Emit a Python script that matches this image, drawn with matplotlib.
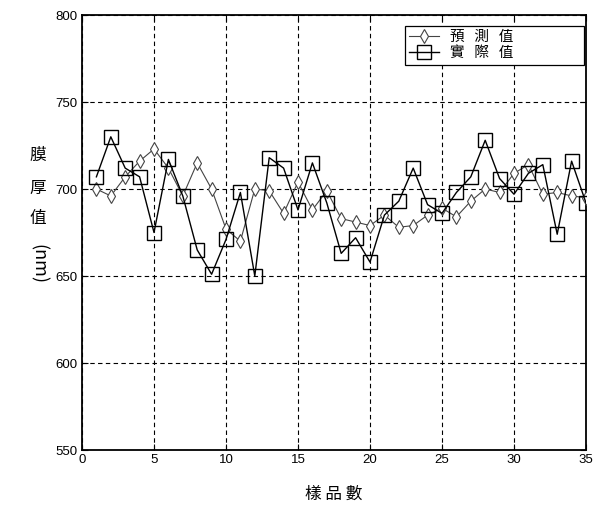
import numpy as np
import matplotlib
matplotlib.use('Agg')
import matplotlib.pyplot as plt

plt.rcParams['font.family'] = ['Noto Sans CJK TC', 'DejaVu Sans']

# 資料
samples = list(range(1, 36))
pred = [700, 696, 707, 716, 723, 712, 696, 715, 700, 677,
        670, 700, 699, 686, 704, 688, 699, 683, 681, 679,
        685, 678, 679, 685, 689, 684, 693, 700, 698, 709,
        714, 697, 698, 696, 695]
actual = [707, 730, 712, 707, 675, 717, 696, 665, 651, 671,
          698, 650, 718, 712, 688, 715, 692, 663, 672, 658,
          685, 693, 712, 691, 686, 698, 707, 728, 706, 697,
          709, 714, 674, 716, 692]
xticks = [0, 5, 10, 15, 20, 25, 30, 35]
yticks = [550, 600, 650, 700, 750, 800]

fig = plt.figure(figsize=(5.97, 5.17), dpi=100)
ax = fig.add_axes([82/597, 1-450/517, (586-82)/597, (450-15)/517])

ax.plot(samples, pred, color='#444444', lw=0.8, marker='d', markersize=7.5,
        markerfacecolor='white', markeredgecolor='#444444', markeredgewidth=0.8,
        label='預   測   值', zorder=3)
ax.plot(samples, actual, color='black', lw=1.0, marker='s', markersize=9.5,
        markerfacecolor='none', markeredgecolor='black', markeredgewidth=1.0,
        label='實   際   值', zorder=4)

ax.set_xlim(0, 35)
ax.set_ylim(550, 800)
ax.set_xticks(xticks)
ax.set_yticks(yticks)
ax.grid(True, color='black', linestyle=(0, (4, 3)), linewidth=0.8)
ax.tick_params(direction='in', top=True, right=True, length=4, width=0.8,
               labelsize=9.5, pad=3)
for lab in ax.get_xticklabels() + ax.get_yticklabels():
    lab.set_fontfamily('Liberation Sans')
for sp in ax.spines.values():
    sp.set_linewidth(1.3)

leg = ax.legend(loc='upper left', bbox_to_anchor=(0.641, 0.880, 0.355, 0.095),
                mode='expand', borderaxespad=0, fancybox=False, framealpha=1,
                edgecolor='black', fontsize=10.5, handlelength=2.0,
                labelspacing=0.15, borderpad=0.3)
leg.get_frame().set_linewidth(0.9)

ax.set_xlabel('樣 品 數', fontsize=12, labelpad=14)

# 直式 y 軸標籤
for ch, py in zip(['膜', '厚', '值'], [155, 188, 219]):
    fig.text(38/597, 1-py/517, ch, fontsize=12, ha='center', va='center')
fig.text(38/597, 1-264/517, '(nm)', fontsize=13, ha='center', va='center',
         rotation=-90)

fig.savefig('out.png', dpi=100)
